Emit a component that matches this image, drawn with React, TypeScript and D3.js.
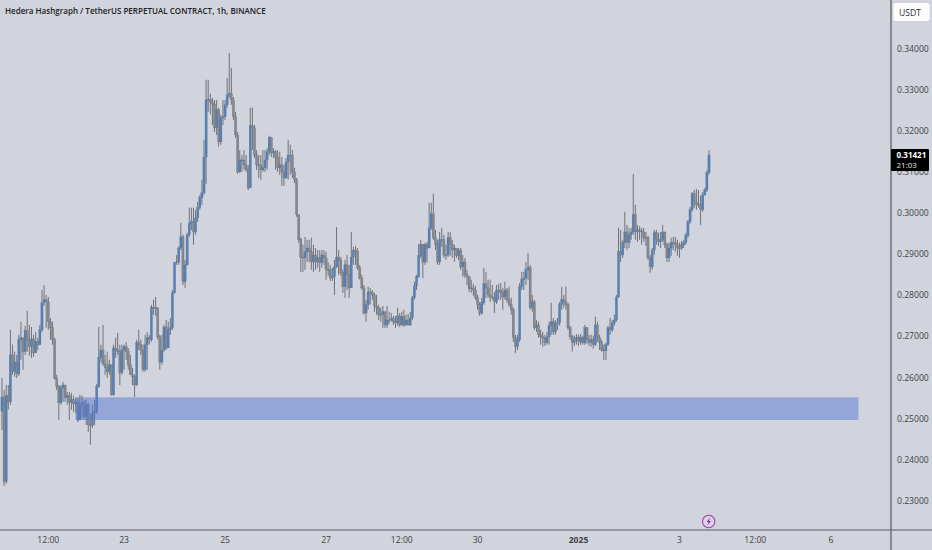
import React from "react";
import * as d3 from "d3";

// hourly candles, prices in 1e-4 USDT
const firstOpen = 2518;
const closes = [
  2553,2347,2556,2541,2655,2614,2638,2609,2692,2697,
  2663,2714,2692,2675,2694,2660,2687,2680,2716,2782,
  2789,2784,2736,2721,2692,2599,2578,2539,2575,2582,
  2551,2556,2539,2546,2536,2541,2497,2534,2539,2505,
  2534,2485,2483,2514,2517,2578,2648,2667,2633,2624,
  2614,2631,2558,2672,2667,2663,2612,2667,2675,2663,
  2631,2607,2602,2582,2685,2680,2667,2619,2680,2697,
  2692,2770,2770,2770,2699,2638,2667,2723,2672,2716,
  2721,2806,2879,2881,2915,2942,2833,2874,2947,2974,
  2979,2954,2988,3013,3037,3049,3136,3275,3277,3270,3265,
  3207,3251,3173,3231,3234,3263,3287,3290,3275,3234,
  3190,3100,3129,3129,3117,3105,3061,3212,3207,3141,
  3117,3117,3105,3110,3129,3149,3183,3146,3149,3136,
  3110,3117,3100,3085,3124,3141,3141,3100,3081,2996,
  2935,2893,2891,2906,2915,2906,2881,2898,2881,2891,
  2879,2898,2891,2862,2862,2842,2845,2869,2893,2886,
  2855,2821,2874,2850,2818,2893,2910,2906,2867,2842,
  2818,2757,2777,2808,2808,2801,2774,2770,2753,2753,
  2760,2728,2740,2740,2743,2736,2733,2750,2728,2748,
  2728,2740,2728,2745,2794,2823,2845,2896,2923,2881,
  2923,2915,2964,2998,2940,2923,2881,2935,2935,2898,2898,
  2940,2923,2910,2915,2896,2910,2869,2881,2850,2845,
  2816,2818,2813,2794,2777,2757,2782,2828,2818,2801,
  2796,2796,2784,2813,2813,2806,2796,2813,2789,2777,
  2765,2697,2675,2692,2821,2838,2842,2862,2867,2770,
  2784,2721,2728,2704,2699,2697,2685,2699,2726,2736,
  2711,2733,2733,2777,2789,2784,2777,2721,2699,2685,
  2692,2697,2687,2697,2685,2721,2692,2685,2692,2680,
  2728,2697,2685,2667,2665,2680,2721,2716,2733,2740,
  2796,2906,2898,2928,2954,2928,2947,2954,2996,2954,
  2959,2957,2954,2940,2940,2891,2869,2910,2952,2935,2930,
  2935,2954,2923,2891,2915,2928,2928,2923,2915,2915,
  2923,2928,2945,2979,3008,3047,3027,3020,3022,3008,
  3044,3056,3098,3141,
];
const highs = [
  2599,2570,2582,2582,2716,2680,2663,2655,2704,2736,
  2692,2726,2762,2728,2723,2704,2711,2697,2728,2813,
  2825,2801,2796,2745,2736,2697,2607,2582,2582,2590,
  2582,2565,2565,2563,2556,2551,2551,2558,2556,2546,
  2546,2539,2512,2534,2546,2585,2723,2680,2728,2655,
  2663,2643,2631,2680,2697,2709,2680,2680,2680,2687,
  2672,2655,2624,2607,2692,2716,2692,2680,2704,2711,
  2704,2777,2789,2796,2770,2704,2704,2728,2740,2736,
  2745,2813,2881,2898,2920,2976,2947,2886,2952,3013,
  3013,3013,3008,3027,3044,3081,3178,3324,3324,3290,3280,
  3275,3275,3256,3239,3275,3275,3328,3389,3353,3282,
  3246,3197,3153,3141,3153,3141,3117,3256,3256,3214,
  3153,3141,3141,3153,3153,3158,3188,3185,3158,3153,
  3153,3149,3136,3117,3134,3178,3166,3153,3110,3085,
  2996,2940,2923,2942,2935,2935,2940,2923,2915,2910,
  2910,2910,2910,2906,2881,2874,2867,2886,2966,2910,
  2893,2862,2886,2898,2874,2954,2918,2920,2915,2874,
  2850,2825,2789,2821,2818,2813,2806,2801,2777,2770,
  2774,2760,2774,2760,2757,2750,2750,2770,2757,2760,
  2765,2753,2755,2760,2799,2833,2850,2925,2935,2925,
  2928,2930,3025,3025,3047,2959,2935,2954,2964,2947,2923,
  2954,2954,2935,2923,2915,2915,2915,2898,2891,2862,
  2847,2838,2828,2823,2801,2784,2794,2867,2857,2838,
  2838,2825,2808,2825,2828,2830,2818,2833,2818,2821,
  2794,2770,2704,2704,2830,2857,2857,2881,2903,2874,
  2801,2789,2740,2736,2716,2711,2704,2711,2736,2782,
  2745,2740,2745,2784,2821,2801,2821,2782,2726,2704,
  2702,2706,2704,2706,2702,2728,2723,2704,2704,2702,
  2748,2736,2704,2692,2680,2685,2726,2745,2740,2753,
  2801,2964,2959,2935,3003,2971,2964,2964,3095,3020,
  2971,2968,2964,2964,2954,2945,2898,2915,2959,2959,2952,
  2954,2971,2954,2928,2928,2940,2942,2942,2935,2928,
  2932,2935,2952,2983,3015,3051,3056,3059,3056,3042,
  3051,3061,3105,3153,
];
const lows = [
  2473,2337,2342,2522,2534,2607,2602,2599,2604,2643,
  2619,2655,2663,2653,2648,2650,2663,2667,2685,2711,
  2774,2721,2716,2692,2680,2595,2570,2497,2534,2541,
  2541,2534,2497,2522,2517,2514,2492,2497,2502,2497,
  2485,2468,2437,2478,2485,2512,2575,2638,2629,2607,
  2599,2607,2556,2556,2648,2655,2582,2607,2619,2643,
  2619,2607,2582,2553,2580,2667,2655,2614,2614,2619,
  2680,2687,2753,2750,2692,2619,2631,2663,2667,2672,
  2704,2716,2804,2874,2874,2910,2825,2818,2872,2942,
  2959,2923,2947,2979,3008,3020,3044,3071,3246,3240,3214,
  3197,3190,3161,3166,3214,3226,3256,3280,3263,3226,
  3183,3095,3098,3100,3105,3100,3056,3085,3153,3134,
  3105,3085,3081,3100,3100,3105,3141,3136,3134,3105,
  3100,3093,3066,3066,3085,3081,3093,3085,3073,2991,
  2928,2857,2857,2862,2881,2881,2862,2857,2862,2867,
  2857,2867,2874,2838,2847,2835,2835,2801,2867,2850,
  2847,2806,2794,2813,2794,2818,2874,2874,2862,2838,
  2813,2753,2736,2765,2777,2789,2760,2753,2740,2736,
  2721,2721,2721,2731,2736,2728,2721,2726,2723,2726,
  2723,2726,2726,2726,2740,2789,2813,2842,2891,2842,
  2874,2880,2918,2959,2935,2910,2874,2874,2918,2891,2886,
  2893,2896,2891,2881,2891,2886,2862,2845,2842,2825,
  2808,2806,2799,2789,2765,2750,2753,2777,2794,2794,
  2784,2789,2757,2779,2789,2789,2765,2789,2782,2772,
  2753,2687,2660,2667,2687,2813,2813,2825,2838,2765,
  2760,2716,2711,2697,2680,2675,2677,2680,2680,2704,
  2704,2704,2716,2726,2765,2770,2765,2716,2692,2663,
  2677,2680,2677,2680,2680,2680,2682,2677,2675,2670,
  2677,2687,2667,2663,2643,2643,2677,2704,2711,2726,
  2736,2794,2881,2891,2915,2910,2915,2935,2947,2935,
  2930,2935,2923,2930,2920,2886,2855,2862,2898,2923,2920,
  2915,2930,2915,2881,2881,2896,2910,2906,2896,2891,
  2910,2915,2923,2940,2974,3003,3013,3008,3013,2971,
  3003,3042,3051,3093,
];

const priceTicks = [0.34, 0.33, 0.32, 0.31, 0.3, 0.29, 0.28, 0.27, 0.26, 0.25, 0.24, 0.23];
const timeTicks = [
  { date: Date.UTC(2024, 11, 21, 12), label: "12:00", bold: false },
  { date: Date.UTC(2024, 11, 23), label: "23", bold: false },
  { date: Date.UTC(2024, 11, 25), label: "25", bold: false },
  { date: Date.UTC(2024, 11, 27), label: "27", bold: false },
  { date: Date.UTC(2024, 11, 28, 12), label: "12:00", bold: false },
  { date: Date.UTC(2024, 11, 30), label: "30", bold: false },
  { date: Date.UTC(2025, 0, 1), label: "2025", bold: true },
  { date: Date.UTC(2025, 0, 3), label: "3", bold: false },
  { date: Date.UTC(2025, 0, 4, 12), label: "12:00", bold: false },
  { date: Date.UTC(2025, 0, 6), label: "6", bold: false },
];

const zoneTop = 0.2552;
const zoneBottom = 0.2497;
const zoneStart = Date.UTC(2024, 11, 22, 1);
const zoneEnd = Date.UTC(2025, 0, 6, 13);

const firstCandle = Date.UTC(2024, 11, 20, 14);
const HOUR = 3600 * 1000;
const lastPrice = "0.31421";
const countdown = "21:03";

const width = 932;
const height = 550;
const plotRight = 891;
const plotBottom = 530;

const font = "'Open Sans', sans-serif";

const x = d3.scaleUtc().domain([firstCandle, firstCandle + 336 * HOUR]).range([2, 709]);
const y = d3.scaleLinear().domain([0.23, 0.34]).range([501, 48.5]);

const candles = closes.map((c, i) => ({
  time: firstCandle + i * HOUR,
  open: (i === 0 ? firstOpen : closes[i - 1]) / 1e4,
  close: c / 1e4,
  high: highs[i] / 1e4,
  low: lows[i] / 1e4,
}));

export default function App() {
  return (
    <svg
      width={width}
      height={height}
      style={{ position: "absolute", left: 0, top: 0, background: "#d1d4dc" }}
    >
      <defs>
        <filter id="soft" x="-5%" y="-5%" width="110%" height="110%">
          <feGaussianBlur stdDeviation="0.35" />
        </filter>
      </defs>

      <g filter="url(#soft)">
        {candles.map((d) => {
          const up = d.close >= d.open;
          const top = y(Math.max(d.open, d.close));
          const bottom = y(Math.min(d.open, d.close));
          return (
            <g key={d.time}>
              <line
                x1={x(d.time)}
                x2={x(d.time)}
                y1={y(Math.max(d.high, d.open, d.close))}
                y2={y(Math.min(d.low, d.open, d.close))}
                stroke="#63666d"
                strokeWidth={0.9}
              />
              <rect
                x={x(d.time) - 1.1}
                width={2.2}
                y={top}
                height={Math.max(bottom - top, 0.8)}
                fill={up ? "#5680b4" : "#85878e"}
                stroke={up ? "#55749c" : "#6a6c73"}
                strokeWidth={0.3}
              />
            </g>
          );
        })}
      </g>

      <rect
        x={x(zoneStart)}
        y={y(zoneTop)}
        width={x(zoneEnd) - x(zoneStart)}
        height={y(zoneBottom) - y(zoneTop)}
        fill="#5577d2"
        fillOpacity={0.5}
      />

      {/* axes */}
      <line x1={plotRight} x2={plotRight} y1={0} y2={height} stroke="#75787f" strokeWidth={1.6} />
      <line x1={0} x2={width} y1={plotBottom} y2={plotBottom} stroke="#5c5f66" strokeWidth={1} />

      <text x={5} y={14} fontFamily={font} fontSize={8.05} fontWeight={600} fill="#1e2025">
        Hedera Hashgraph / TetherUS PERPETUAL CONTRACT, 1h, BINANCE
      </text>

      {priceTicks.map((t) => (
        <text
          key={t}
          x={897}
          y={y(t) + 3}
          fontFamily={font}
          fontSize={8.6}
          fill="#3f4249"
        >
          {t.toFixed(5)}
        </text>
      ))}

      {timeTicks.map((t) => (
        <text
          key={t.date}
          x={x(t.date)}
          y={543}
          textAnchor="middle"
          fontFamily={font}
          fontSize={8.6}
          fontWeight={t.bold ? 700 : 400}
          fill="#3f4249"
        >
          {t.label}
        </text>
      ))}

      {/* currency button */}
      <rect x={893.5} y={3} width={36} height={18} rx={2} fill="#ffffff" />
      <text x={899} y={15.5} fontFamily={font} fontSize={8.6} fill="#2a2c31">
        USDT
      </text>

      {/* last price tag */}
      <rect x={891} y={149} width={38} height={22} rx={1} fill="#000000" />
      <text x={896.5} y={158} fontFamily={font} fontSize={8} fontWeight={700} fill="#ffffff">
        {lastPrice}
      </text>
      <text x={896.5} y={167.5} fontFamily={font} fontSize={8} fill="#e4e4e4">
        {countdown}
      </text>

      {/* flash marker */}
      <circle cx={708.7} cy={521.5} r={6.2} fill="#d9d4e4" stroke="#a33bb5" strokeWidth={1.1} />
      <path d="M710.3 517.6 L706.6 522 L708.7 522 L707.3 525.4 L711 520.9 L708.9 520.9 Z" fill="#8e2aa3" />
    </svg>
  );
}
